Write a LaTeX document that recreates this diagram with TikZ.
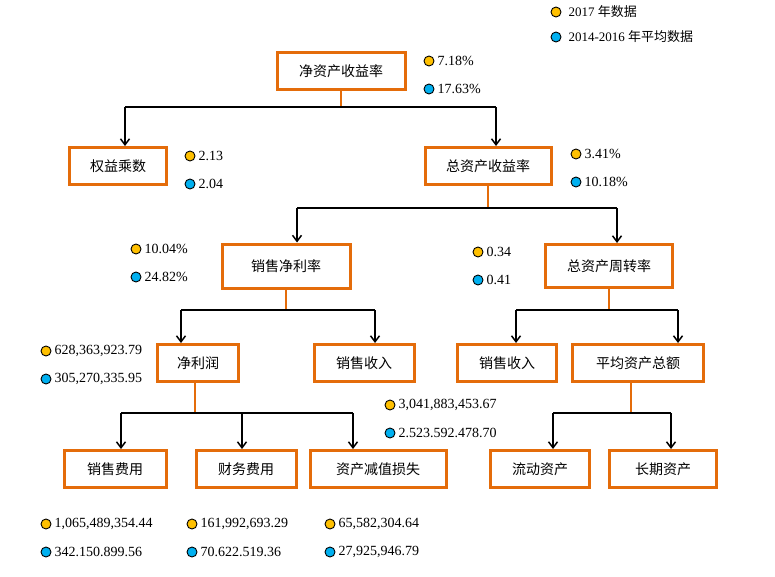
\documentclass[tikz,border=0pt]{standalone}
\usepackage{fontspec}
\setmainfont{Liberation Serif}
\newfontfamily\cjk{Noto Sans CJK SC}
\usetikzlibrary{arrows.meta}
\definecolor{obox}{HTML}{E46C0A}
\definecolor{gdot}{HTML}{FFC000}
\definecolor{bdot}{HTML}{00B0F0}
\tikzset{
 x=1pt,y=-1pt,
 bx/.style={draw=obox,line width=3pt,minimum height=37pt,inner sep=0pt,font=\cjk\fontsize{14}{14}\selectfont,fill=white},
 stub/.style={draw=obox,line width=1.2pt},
 bar/.style={draw=black,line width=1.5pt},
 arr/.style={draw=black,line width=1.5pt,-{Straight Barb[length=6pt,width=9pt]}},
 gd/.style={circle,draw=black,line width=0.9pt,fill=gdot,minimum size=10pt,inner sep=0pt},
 bd/.style={circle,draw=black,line width=0.9pt,fill=bdot,minimum size=10pt,inner sep=0pt},
 val/.style={anchor=west,inner sep=1pt,font=\fontsize{14}{14}\selectfont},
}
\newcommand{\vpair}[5]{%
 \node[gd] (#1g) at (#2,#3) {}; \node[val] (#1gt) at ([xshift=2pt]#1g.east) {#4};
 \node[bd] (#1b) at (#2,#3+28) {}; \node[val] (#1bt) at ([xshift=2pt]#1b.east) {#5};}
\begin{document}
\begin{tikzpicture}
\useasboundingbox[fill=white] (0,0) rectangle (775,576);
% boxes
\node[bx,minimum width=128pt] (roe) at (341,71) {净资产收益率};
\node[bx,minimum width=97pt] (em) at (118,166) {权益乘数};
\node[bx,minimum width=126pt] (roa) at (488,166) {总资产收益率};
\node[bx,minimum width=128pt,minimum height=44pt] (npm) at (286,266) {销售净利率};
\node[bx,minimum width=127pt,minimum height=43pt] (tat) at (609,266) {总资产周转率};
\node[bx,minimum width=81pt] (np) at (198,363) {净利润};
\node[bx,minimum width=100pt] (s1) at (364,363) {销售收入};
\node[bx,minimum width=99pt] (s2) at (507,363) {销售收入};
\node[bx,minimum width=131pt] (ata) at (638,363) {平均资产总额};
\node[bx,minimum width=102pt] (sf) at (115,469) {销售费用};
\node[bx,minimum width=100pt] (cf) at (246,469) {财务费用};
\node[bx,minimum width=136pt] (zc) at (378,469) {资产减值损失};
\node[bx,minimum width=99pt] (ld) at (540,469) {流动资产};
\node[bx,minimum width=107pt] (cq) at (663,469) {长期资产};
% connectors
\coordinate (j1) at (roe.south|-0,107);
\draw[stub] (roe.south) -- (j1);
\draw[bar] (125,107) -- (496,107);
\draw[arr] (125,107) -- (125,140) -- (em.north-|125,0);
\draw[arr] (496,107) -- (roa.north-|496,0);
\coordinate (j2) at (roa.south|-0,208);
\draw[stub] (roa.south) -- (j2);
\draw[bar] (297,208) -- (617,208);
\draw[arr] (297,208) -- (npm.north-|297,0);
\draw[arr] (617,208) -- (tat.north-|617,0);
\coordinate (j3) at (npm.south|-0,310);
\draw[stub] (npm.south) -- (j3);
\draw[bar] (181,310) -- (375,310);
\draw[arr] (181,310) -- (np.north-|181,0);
\draw[arr] (375,310) -- (s1.north-|375,0);
\coordinate (j4) at (tat.south|-0,310);
\draw[stub] (tat.south) -- (j4);
\draw[bar] (516,310) -- (678,310);
\draw[arr] (516,310) -- (s2.north-|516,0);
\draw[arr] (678,310) -- (ata.north-|678,0);
\coordinate (j5) at (195,413);
\draw[stub] (np.south-|195,0) -- (j5);
\draw[bar] (121,413) -- (353,413);
\draw[arr] (121,413) -- (sf.north-|121,0);
\draw[arr] (242,413) -- (cf.north-|242,0);
\draw[arr] (353,413) -- (zc.north-|353,0);
\coordinate (j6) at (631,413);
\draw[stub] (ata.south-|631,0) -- (j6);
\draw[bar] (553,413) -- (671,413);
\draw[arr] (553,413) -- (ld.north-|553,0);
\draw[arr] (671,413) -- (cq.north-|671,0);
% legend
\node[gd] (lg) at (556,12) {};
\node[val,font=\fontsize{13}{13}\selectfont] (lgt) at ([xshift=6pt]lg.east) {2017 {\cjk 年数据}};
\node[bd] (lb) at (556,37) {};
\node[val,font=\fontsize{13}{13}\selectfont] (lbt) at ([xshift=6pt]lb.east) {2014-2016 {\cjk 年平均数据}};
% values
\vpair{a}{429}{61}{7.18\%}{17.63\%}
\vpair{b}{190}{156}{2.13}{2.04}
\vpair{c}{576}{154}{3.41\%}{10.18\%}
\vpair{d}{136}{249}{10.04\%}{24.82\%}
\vpair{e}{478}{252}{0.34}{0.41}
\vpair{f}{46}{351}{628,363,923.79}{305,270,335.95}
\vpair{g}{390}{405}{3,041,883,453.67}{2.523.592.478.70}
\vpair{h}{46}{524}{1,065,489,354.44}{342.150.899.56}
\vpair{i}{192}{524}{161,992,693.29}{70.622.519.36}
\vpair{k}{330}{524}{65,582,304.64}{27,925,946.79}
\end{tikzpicture}
\end{document}
